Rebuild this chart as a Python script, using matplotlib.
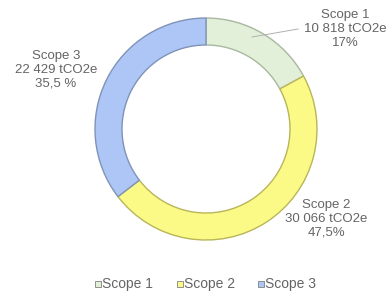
import matplotlib.pyplot as plt
from matplotlib.patches import Rectangle

# data
labels = ["Scope 1", "Scope 2", "Scope 3"]
values = [10818, 30066, 22429]
value_text = ["10 818 tCO2e", "30 066 tCO2e", "22 429 tCO2e"]
pct_text = ["17%", "47,5%", "35,5 %"]
colors = ["#e2efd9", "#fbfa86", "#adc6f5"]
edges = ["#a9b8a0", "#b8b55a", "#7f93b8"]

plt.rcParams['font.family'] = ['Liberation Sans', 'DejaVu Sans']

W, H = 391, 300
fig = plt.figure(figsize=(W / 100, H / 100), dpi=100)
ax = fig.add_axes([0, 0, 1, 1])

cx, cy, r = 206, H - 129, 111
wedges, _ = ax.pie(values, colors=colors, startangle=90, counterclock=False,
                   center=(cx, cy), radius=r, frame=True,
                   wedgeprops=dict(width=27, linewidth=1.0))
for w, ec in zip(wedges, edges):
    w.set_edgecolor(ec)
ax.set_xlim(0, W)
ax.set_ylim(0, H)
ax.set_aspect("equal")
ax.axis("off")

txt = "#656565"
fs = 9.5
label_pos = [(345, H - 29), (326, H - 219), (56, H - 70)]
for i, (x, y) in enumerate(label_pos):
    ax.text(x, y, f"{labels[i]}\n{value_text[i]}\n{pct_text[i]}", ha="center", va="center",
            fontsize=fs, color=txt, linespacing=1.2)

# leader line for Scope 1
ax.plot([252, 298], [H - 37, H - 29], color="#b0b0b0", lw=0.7)

# legend
leg_x = [95, 177, 258]
for i, lab in enumerate(labels):
    ax.add_patch(Rectangle((leg_x[i], H - 287), 6, 6, facecolor=colors[i],
                           edgecolor="#808080", lw=0.6))
    ax.text(leg_x[i] + 7, H - 284, lab, fontsize=10, color=txt, va="center", ha="left")

fig.savefig("out.png", dpi=100, facecolor="white")
